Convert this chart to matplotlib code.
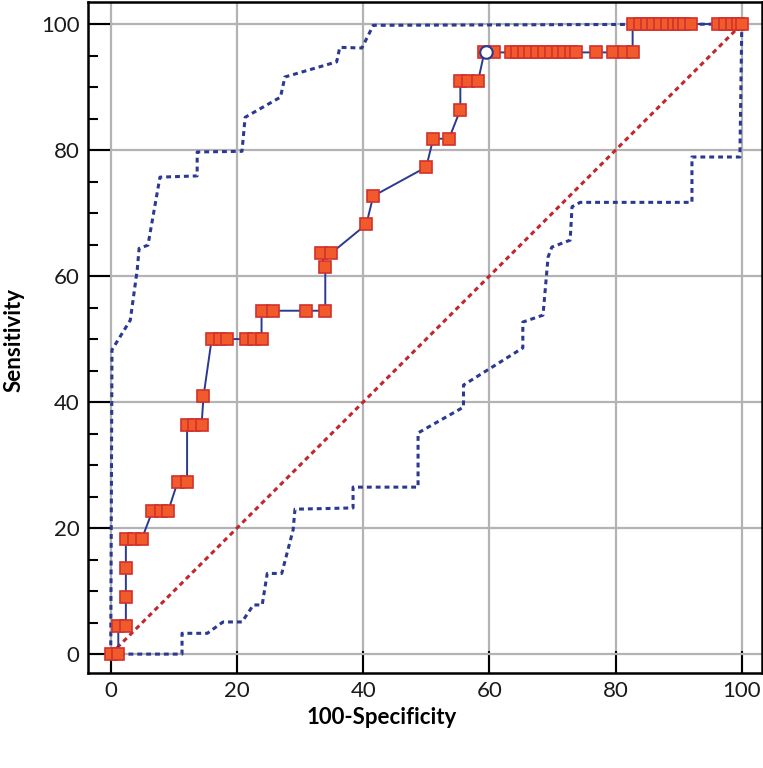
import matplotlib
matplotlib.use("Agg")
import matplotlib.pyplot as plt
from matplotlib.ticker import MultipleLocator

# ── colours ─────────────────────────────────────────────
NAVY = "#2b3990"
SQ_FILL = "#f15a2b"
SQ_EDGE = "#d3302b"
DIAG = "#c1272d"
GRID = "#b3b3b3"

# ── ROC curve (100-specificity, sensitivity) ────────────
roc_x = [0.0, 1.2, 1.2, 2.4, 2.4, 2.4, 2.4, 3.7, 4.9, 6.6, 7.9, 9.1,
         10.6, 12.1, 12.1, 13.2, 14.4, 14.7, 16.0, 17.3, 18.5, 21.4, 22.7,
         23.9, 23.9, 25.7, 31.0, 34.0, 34.0, 33.3, 34.9, 40.5, 41.6, 50.0,
         51.1, 53.6, 55.4, 55.4, 56.6, 58.2, 59.2, 60.8,
         63.4, 64.4, 65.5, 66.5, 67.6, 68.7, 69.7, 70.8, 71.8, 72.9, 73.8,
         76.9, 79.6, 81.3, 82.7,
         82.7, 83.9, 85.0, 86.0, 87.1, 88.1, 89.2, 90.1, 90.9, 91.9,
         96.2, 97.4, 98.4, 99.4, 100.0]
roc_y = [0.0, 0.0, 4.5, 4.5, 9.1, 13.6, 18.2, 18.2, 18.2, 22.7, 22.7, 22.7,
         27.3, 27.3, 36.4, 36.4, 36.4, 40.9, 50.0, 50.0, 50.0, 50.0, 50.0,
         50.0, 54.5, 54.5, 54.5, 54.5, 61.4, 63.6, 63.6, 68.2, 72.7, 77.3,
         81.8, 81.8, 86.4, 90.9, 90.9, 90.9, 95.5, 95.5,
         95.5, 95.5, 95.5, 95.5, 95.5, 95.5, 95.5, 95.5, 95.5, 95.5, 95.5,
         95.5, 95.5, 95.5, 95.5,
         100.0, 100.0, 100.0, 100.0, 100.0, 100.0, 100.0, 100.0, 100.0, 100.0,
         100.0, 100.0, 100.0, 100.0, 100.0]

# optimal criterion point
opt_x = [59.5]
opt_y = [95.5]

# ── confidence bounds ───────────────────────────────────
upper_x = [0.0, 0.2, 3.1, 4.2, 4.5, 5.9, 7.8, 13.7, 13.7, 20.8, 21.3,
           26.9, 27.6, 35.8, 36.3, 39.8, 41.6, 100.0]
upper_y = [0.0, 48.3, 53.0, 61.0, 64.4, 64.9, 75.7, 75.9, 79.7, 79.8, 85.2,
           88.4, 91.6, 94.0, 96.3, 96.2, 99.8, 100.0]

lower_x = [0.0, 11.3, 11.3, 15.3, 17.8, 20.8, 22.6, 24.0, 24.8, 27.1, 28.9,
           29.2, 38.4, 38.4, 48.7, 48.7, 55.9, 55.9, 65.3, 65.3, 68.5, 69.3,
           69.9, 72.8, 73.1, 74.4, 92.1, 92.1, 99.7, 100.0]
lower_y = [0.0, 0.0, 3.3, 3.3, 5.1, 5.1, 7.8, 7.8, 12.8, 12.8, 19.7,
           23.0, 23.2, 26.5, 26.5, 35.1, 39.2, 42.7, 48.6, 52.7, 53.8, 63.0,
           64.6, 65.7, 71.0, 71.7, 71.7, 78.9, 78.9, 100.0]

xticks = [0, 20, 40, 60, 80, 100]
yticks = [0, 20, 40, 60, 80, 100]

# ── figure ──────────────────────────────────────────────
fig = plt.figure(figsize=(7.63, 7.68), dpi=100, facecolor="white")
ax = fig.add_axes([88 / 763, 95 / 768, 674 / 763, 671 / 768])

ax.set_xlim(-3.6, 103.2)
ax.set_ylim(-3.0, 103.5)
ax.set_xticks(xticks)
ax.set_yticks(yticks)
ax.yaxis.set_minor_locator(MultipleLocator(5))
ax.grid(True, color=GRID, lw=1.6, zorder=0)
ax.set_axisbelow(True)

ax.tick_params(axis="both", which="major", direction="in", length=15.5,
               width=1.5, color="black", labelsize=16, labelcolor="#1a1a1a")
ax.tick_params(axis="y", which="minor", direction="in", length=7,
               width=1.5, color="black")
ax.tick_params(axis="x", pad=6)
ax.tick_params(axis="y", pad=6)
for lab in ax.get_xticklabels() + ax.get_yticklabels():
    lab.set_family("Lato")
    lab.set_weight("normal")
for s in ax.spines.values():
    s.set_linewidth(1.8)

# diagonal reference line
ax.plot([0, 100], [0, 100], color=DIAG, lw=2.2, ls=(0, (1.6, 1.3)), zorder=2)

# confidence bounds
ax.plot(upper_x, upper_y, color=NAVY, lw=2.2, ls=(0, (1.6, 1.3)), zorder=3)
ax.plot(lower_x, lower_y, color=NAVY, lw=2.2, ls=(0, (1.6, 1.3)), zorder=3)

# ROC curve with squares
ax.plot(roc_x, roc_y, color=NAVY, lw=1.4, marker="s", markersize=9,
        markerfacecolor=SQ_FILL, markeredgecolor=SQ_EDGE, markeredgewidth=1.2,
        zorder=4)
ax.plot(opt_x, opt_y, "o", markersize=9, markerfacecolor="white",
        markeredgecolor=NAVY, markeredgewidth=1.5, zorder=5)

ax.set_xlabel("100-Specificity", fontsize=16, fontweight="bold", family="Lato")
ax.set_ylabel("Sensitivity", fontsize=16, fontweight="bold", family="Lato")
ax.xaxis.set_label_coords((382 - 88) / 674, -(718 - 673) / 671)
ax.yaxis.set_label_coords(-(88 - 14) / 674, (673 - 340) / 671)
ax.xaxis.label.set_va("center")
ax.yaxis.label.set_va("center")

fig.savefig("out.png", dpi=100, facecolor="white")
